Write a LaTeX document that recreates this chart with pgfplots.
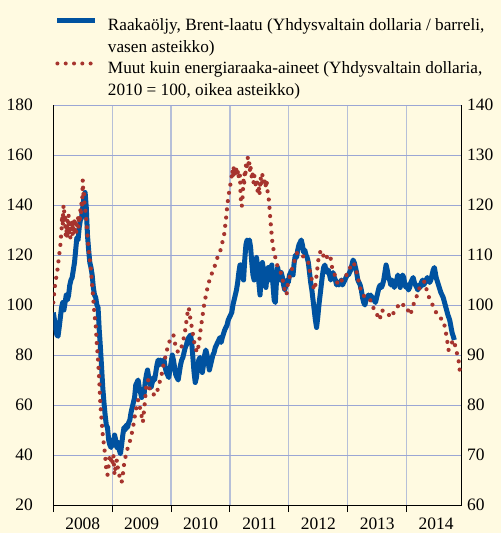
\documentclass[border=0pt]{standalone}
\usepackage{pgfplots}
\pgfplotsset{compat=1.18}
\usepackage{fontspec}
\setmainfont{Liberation Serif}
\definecolor{bgc}{RGB}{255,250,225}
\definecolor{bluec}{RGB}{0,82,160}
\definecolor{redc}{RGB}{166,52,46}
\definecolor{gridh}{RGB}{155,166,212}
\definecolor{gridv}{RGB}{182,191,216}
\begin{document}
\begin{tikzpicture}
\useasboundingbox[fill=bgc] (0,0) rectangle (501bp,533bp);
\begin{axis}[
  at={(53.3bp,28bp)}, anchor=south west,
  scale only axis, width=408.4bp, height=400bp,
  xmin=2008, xmax=2014.934, ymin=20, ymax=180,
  axis x line*=bottom, axis y line*=left,
  axis line style={black, line width=1bp},
  xtick={2008,2009,2010,2011,2012,2013,2014}, xticklabels={},
  extra x ticks={2008.5,2009.5,2010.5,2011.5,2012.5,2013.5,2014.5},
  extra x tick labels={2008,2009,2010,2011,2012,2013,2014},
  extra x tick style={grid=none, major tick length=0pt, xticklabel style={yshift=-9bp}},
  ytick={20,40,60,80,100,120,140,160,180},
  xmajorgrids, ymajorgrids,
  x grid style={color=gridv, line width=1.2bp},
  y grid style={color=gridh, line width=0.9bp},
  tick align=outside, major tick length=7bp,
  xtick style={black, line width=1bp},
  ytick style={draw=none},
  /pgf/number format/assume math mode=true,
  tick label style={font=\fontsize{17.5}{21}\selectfont},
  yticklabel style={xshift=-10bp},
  legend style={at={(axis description cs:0.004,1.2175)}, anchor=north west,
    draw=none, fill=none, inner sep=0pt, outer sep=0pt,
    row sep=4.5bp, column sep=10bp,
    nodes={inner sep=0pt, text height=13bp, text depth=4bp},
    font=\fontsize{17.3}{21}\selectfont},
  legend cell align=left,
  legend image code/.code={\draw[#1] (0bp,6bp) -- (38bp,6bp);},
]
\addplot[bluec, line width=5bp, line join=round] table {
2008.00 97
2008.02 94
2008.04 91
2008.06 88
2008.08 87.5
2008.10 91
2008.12 95
2008.14 99
2008.16 101
2008.18 98
2008.20 101
2008.22 104
2008.24 102
2008.26 104
2008.28 108
2008.30 110
2008.32 111
2008.34 114
2008.36 117
2008.38 122
2008.40 127
2008.42 126
2008.44 131
2008.46 134
2008.48 135
2008.50 139
2008.52 143
2008.54 145
2008.56 139
2008.58 128
2008.60 122
2008.62 117
2008.64 115
2008.66 112
2008.68 107
2008.70 104
2008.72 103
2008.74 100
2008.76 99
2008.78 90
2008.80 83
2008.82 75
2008.84 67
2008.86 61
2008.88 56
2008.90 52
2008.92 51
2008.94 46
2008.96 44
2008.98 43
2009.00 46
2009.02 44
2009.04 48
2009.06 46
2009.08 43
2009.10 45
2009.12 42
2009.14 40.5
2009.16 44
2009.18 48
2009.20 51
2009.22 50
2009.24 52
2009.26 51
2009.28 53
2009.30 54
2009.32 57
2009.34 59
2009.36 61
2009.38 63
2009.40 68
2009.42 69
2009.44 70
2009.46 67
2009.48 65
2009.50 63
2009.52 66
2009.54 64
2009.56 69
2009.58 72
2009.60 74
2009.62 71
2009.64 69
2009.66 67
2009.68 69
2009.70 71
2009.72 70
2009.74 73
2009.76 76
2009.78 78
2009.80 76
2009.82 78
2009.84 77
2009.86 76
2009.88 78
2009.90 75
2009.92 73
2009.94 72
2009.96 71
2009.98 74
2010.00 77
2010.02 80
2010.04 78
2010.06 75
2010.08 72
2010.10 71
2010.12 70
2010.14 73
2010.16 76
2010.18 78
2010.20 79
2010.22 81
2010.24 83
2010.26 84
2010.28 86
2010.30 87
2010.33 88
2010.35 85
2010.37 79
2010.39 73
2010.41 69
2010.43 71
2010.45 75
2010.47 78
2010.49 79
2010.51 76
2010.53 73
2010.55 76
2010.57 80
2010.59 82
2010.61 80
2010.63 77
2010.65 74
2010.67 76
2010.69 78
2010.71 80
2010.73 81
2010.75 83
2010.77 84
2010.79 85
2010.81 86
2010.83 87
2010.85 85
2010.87 87
2010.89 88.5
2010.91 90
2010.93 91
2010.95 92
2010.97 94
2010.99 95
2011.01 96
2011.03 97
2011.05 100
2011.07 102
2011.09 104
2011.11 106
2011.13 109
2011.15 113
2011.17 116
2011.19 116
2011.21 112
2011.23 110
2011.25 118
2011.27 124
2011.29 126
2011.31 125
2011.33 126
2011.35 123
2011.37 117
2011.39 112
2011.41 110
2011.43 115
2011.45 119
2011.47 115
2011.49 109
2011.51 104
2011.53 111
2011.55 117
2011.57 114
2011.59 111
2011.61 107
2011.63 112
2011.65 115
2011.67 110
2011.69 114
2011.71 116
2011.73 108
2011.75 102
2011.77 101
2011.79 110
2011.81 115
2011.83 112
2011.85 110
2011.87 113
2011.89 111
2011.91 108
2011.93 106
2011.95 108
2011.97 110
2011.99 109
2012.01 112
2012.03 113
2012.05 114
2012.07 112
2012.09 117
2012.11 120
2012.13 119
2012.15 122
2012.17 124
2012.19 125
2012.21 126
2012.23 124
2012.25 121
2012.27 122
2012.29 120
2012.31 119
2012.33 117
2012.35 113
2012.37 109
2012.39 106
2012.41 102
2012.43 98
2012.45 94
2012.47 91
2012.49 95
2012.51 100
2012.53 104
2012.55 108
2012.57 112
2012.59 115
2012.61 116
2012.63 114
2012.65 113
2012.67 114
2012.69 112
2012.71 110
2012.73 111
2012.75 113
2012.77 111
2012.79 110
2012.81 108
2012.83 109
2012.85 108
2012.87 109
2012.89 110
2012.91 108
2012.93 109
2012.95 110
2012.97 111
2012.99 112
2013.01 112
2013.03 113
2013.05 114
2013.07 116
2013.09 118
2013.11 117
2013.13 115
2013.15 113
2013.17 110
2013.19 109
2013.21 108
2013.23 106
2013.25 103
2013.27 101
2013.29 100
2013.31 102
2013.33 103
2013.35 104
2013.37 103
2013.39 104
2013.41 102
2013.43 103
2013.45 102
2013.47 101
2013.49 103
2013.51 105
2013.53 107
2013.55 108
2013.57 107
2013.59 108
2013.61 110
2013.63 113
2013.65 116
2013.67 114
2013.69 111
2013.71 110
2013.73 108
2013.75 110
2013.77 109
2013.79 107
2013.81 109
2013.83 110
2013.85 112
2013.87 110
2013.89 107
2013.91 110
2013.93 112
2013.95 111
2013.97 108
2013.99 107
2014.01 108
2014.03 106
2014.05 107
2014.07 109
2014.09 110
2014.11 111
2014.13 109
2014.15 108
2014.17 107
2014.19 106
2014.21 108
2014.23 107
2014.25 109
2014.27 110
2014.29 108
2014.31 109
2014.33 110
2014.35 111
2014.37 110
2014.39 109
2014.41 110
2014.43 112
2014.45 114
2014.47 115
2014.50 111
2014.54 108
2014.58 105
2014.62 103
2014.66 99.5
2014.70 96
2014.73 94
2014.77 89
2014.81 86
};
\addlegendentry{Raakaöljy, Brent-laatu (Yhdysvaltain dollaria / barreli,}
\addlegendimage{empty legend}
\addlegendentry{vasen asteikko)}
\addlegendimage{redc, line width=4bp, line cap=round, dash pattern=on 0bp off 8.3bp}
\addlegendentry{Muut kuin energiaraaka-aineet (Yhdysvaltain dollaria,}
\addlegendimage{empty legend}
\addlegendentry{2010 = 100, oikea asteikko)}
\end{axis}
\begin{axis}[
  at={(53.3bp,28bp)}, anchor=south west,
  scale only axis, width=408.4bp, height=400bp,
  xmin=2008, xmax=2014.934, ymin=60, ymax=140,
  axis x line=none, axis y line*=right,
  axis line style={black, line width=1bp},
  ytick={60,70,80,90,100,110,120,130,140},
  ytick style={draw=none},
  /pgf/number format/assume math mode=true,
  tick label style={font=\fontsize{17.5}{21}\selectfont},
  yticklabel style={xshift=2bp},
]
\addplot[redc, line width=4.2bp, line cap=round, line join=round, dash pattern=on 0bp off 8.3bp] table {
2008.00 100.5
2008.02 103
2008.04 105
2008.06 106
2008.08 108
2008.10 110
2008.12 112
2008.14 115
2008.15 118
2008.16 116
2008.17 119.5
2008.18 120
2008.19 117
2008.20 118
2008.21 114
2008.22 116
2008.23 113.5
2008.24 117
2008.25 115
2008.26 118
2008.27 114
2008.28 116
2008.29 113.5
2008.30 116
2008.31 115
2008.32 117
2008.33 114
2008.34 116
2008.35 115
2008.36 117.5
2008.37 115
2008.38 116.5
2008.39 114.5
2008.40 116
2008.42 117.5
2008.43 115.5
2008.44 118
2008.45 116.5
2008.46 119
2008.47 118
2008.48 121
2008.49 120
2008.50 125
2008.51 122
2008.52 123
2008.53 120
2008.54 119.5
2008.56 117
2008.58 114
2008.60 111
2008.62 109
2008.64 107
2008.66 104
2008.68 101
2008.70 98
2008.72 96
2008.74 92
2008.76 89
2008.78 85
2008.80 80
2008.82 77
2008.84 74
2008.86 72
2008.88 70
2008.90 67
2008.92 66
2008.94 68
2008.96 70
2008.98 69
2009.00 68
2009.02 70
2009.04 66
2009.06 68
2009.08 69
2009.10 67
2009.12 66
2009.14 65
2009.16 64.5
2009.18 66
2009.20 68
2009.24 70.5
2009.28 72
2009.32 73.5
2009.36 76
2009.40 79
2009.44 81
2009.48 79
2009.52 76.5
2009.55 80
2009.58 84
2009.61 85
2009.64 83
2009.67 83
2009.71 82
2009.75 82
2009.79 84
2009.83 85.5
2009.87 88
2009.91 90
2009.95 92
2010.00 93.5
2010.04 94
2010.08 91.5
2010.12 90.5
2010.16 91
2010.20 92.5
2010.24 95
2010.28 98.5
2010.30 99.5
2010.33 97
2010.36 95
2010.40 92
2010.44 90.5
2010.47 92
2010.50 95
2010.53 97.5
2010.56 100
2010.60 102.5
2010.64 104.5
2010.68 106
2010.72 107
2010.76 108.5
2010.80 110
2010.84 111
2010.87 112.5
2010.90 114
2010.93 117
2010.96 120.5
2010.99 123
2011.02 125
2011.04 127
2011.05 125.5
2011.06 127.5
2011.08 126
2011.10 127.5
2011.12 126
2011.14 127
2011.15 125
2011.17 126
2011.18 122
2011.19 120
2011.20 119.7
2011.21 121
2011.22 123
2011.23 125
2011.24 124
2011.25 127
2011.26 125.5
2011.27 128
2011.28 127
2011.29 129
2011.31 129.7
2011.32 127.5
2011.33 128.5
2011.34 126.5
2011.35 127.5
2011.37 125.5
2011.38 126.5
2011.40 124.5
2011.41 126
2011.43 125
2011.44 123.5
2011.46 124.5
2011.47 122.5
2011.49 123.5
2011.50 122
2011.52 125.5
2011.53 124
2011.55 126
2011.56 124.5
2011.58 125.5
2011.60 123.5
2011.62 125
2011.64 122.5
2011.66 121
2011.68 118
2011.70 115
2011.72 112.5
2011.74 111
2011.77 109.5
2011.80 108
2011.84 107
2011.88 106
2011.91 104
2011.94 102.5
2011.96 102
2011.98 104
2012.02 106
2012.06 107.5
2012.10 109
2012.14 110.5
2012.18 110.5
2012.22 110
2012.26 109.5
2012.30 109
2012.33 108.5
2012.36 106.5
2012.39 105
2012.42 103.5
2012.44 103
2012.47 106
2012.50 109
2012.54 111
2012.58 110
2012.62 109
2012.66 110
2012.70 110
2012.74 107
2012.78 106
2012.82 104.5
2012.86 104
2012.90 105
2012.94 106
2012.98 106
2013.02 107
2013.06 108
2013.10 108.5
2013.14 107
2013.18 105
2013.22 103
2013.26 102
2013.30 101.5
2013.34 101
2013.38 101
2013.42 100
2013.46 98.5
2013.50 98
2013.54 97
2013.58 99
2013.62 98.5
2013.66 98
2013.70 98
2013.74 97.5
2013.78 98.5
2013.82 99
2013.86 100
2013.90 100.5
2013.94 100
2013.98 100
2014.02 99
2014.06 98
2014.10 99.5
2014.14 101
2014.18 102
2014.22 103.5
2014.26 104
2014.30 104.7
2014.34 103
2014.38 101.5
2014.42 100.5
2014.46 99.5
2014.50 98.5
2014.54 97.7
2014.58 97.3
2014.62 97
2014.65 95.5
2014.68 93.5
2014.71 91
2014.74 91.5
2014.77 92.5
2014.80 93
2014.83 91.5
2014.86 90
2014.88 89
2014.91 86
};
\end{axis}
\end{tikzpicture}
\end{document}
